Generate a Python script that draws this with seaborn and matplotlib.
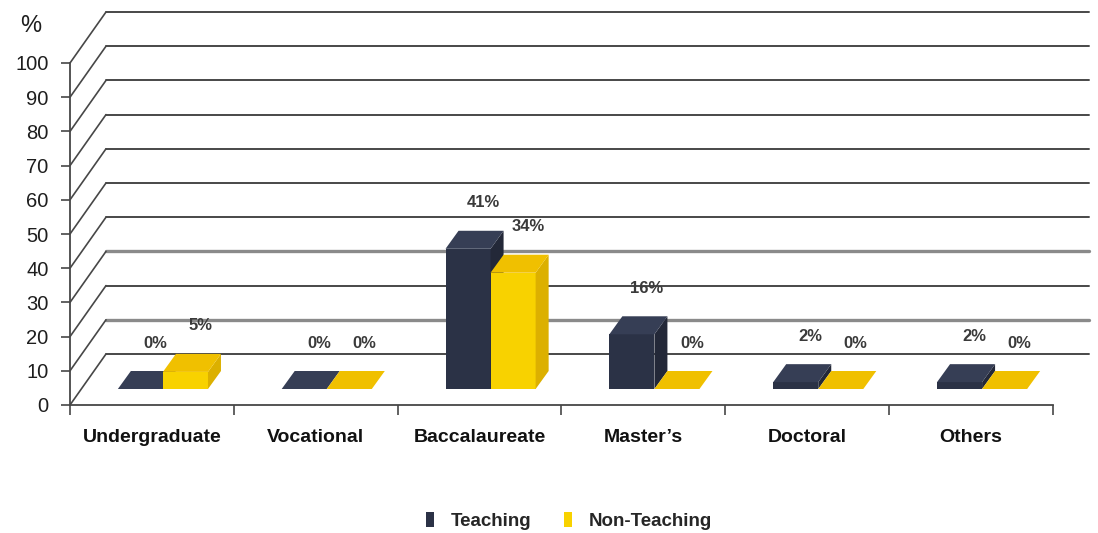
import numpy as np
import pandas as pd
import matplotlib
matplotlib.use("Agg")
import matplotlib.pyplot as plt
import seaborn as sns
from matplotlib.transforms import ScaledTranslation, IdentityTransform
from matplotlib.patches import Polygon
from matplotlib.font_manager import FontProperties

# ---------------- data ----------------
categories = ["Undergraduate", "Vocational", "Baccalaureate", "Master\u2019s", "Doctoral", "Others"]
series = ["Teaching", "Non-Teaching"]
teaching = [0, 0, 41, 16, 2, 2]
non_teaching = [5, 0, 34, 0, 0, 0]
yticks = list(range(0, 101, 10))

df = pd.DataFrame({
    "Level": categories * 2,
    "Share": teaching + non_teaching,
    "Group": [series[0]] * len(categories) + [series[1]] * len(categories),
})

# ---------------- style ----------------
NAVY = "#2b3246"
NAVY_TOP = "#363e55"
NAVY_SIDE = "#232838"
YELLOW = "#f8d200"
YELLOW_TOP = "#f0c000"
YELLOW_SIDE = "#dcb000"
GRID = "#474747"

sns.set_theme(style="white")
plt.rcParams["font.family"] = ["Liberation Sans", "DejaVu Sans"]
cat_font = FontProperties(family=["Liberation Sans", "DejaVu Sans"], weight="bold", size=14)
legend_font = FontProperties(family=["Liberation Sans", "DejaVu Sans"], weight="bold", size=13.5)

W, H = 1098, 533
fig = plt.figure(figsize=(W / 100, H / 100), dpi=100)
fig.patch.set_facecolor("white")
ax = fig.add_axes([70 / W, 128 / H, 983 / W, 342 / H])
ax.set_facecolor("none")

sns.barplot(data=df, x="Level", y="Share", hue="Group", hue_order=series,
            palette=[NAVY, YELLOW], width=0.55, saturation=1, ax=ax,
            edgecolor="none", linewidth=0, errorbar=None)

ax.set_xlim(-0.5, len(categories) - 0.5)
ax.set_ylim(0, 100)
ax.set_autoscale_on(False)

def px(dx, dy):
    return ScaledTranslation(dx / 100, dy / 100, fig.dpi_scale_trans)

FX, FY = 11, 16      # front face offset from floor front edge (pixels)
DX, DY = 13, 18      # bar depth (pixels)
WX, WY = 36, 51      # back wall offset (pixels)

# back wall gridlines and left diagonals
for k in yticks:
    gray = k in (10, 30)
    ax.plot([-0.5, len(categories) - 0.5], [k, k],
            transform=ax.transData + px(WX, WY), clip_on=False,
            color="#8a8a8a" if gray else GRID, lw=2.4 if gray else 1.4, zorder=1)
    a = ax.transData.transform((-0.5, k))
    ax.plot([a[0], a[0] + WX], [a[1], a[1] + WY], transform=IdentityTransform(),
            clip_on=False, color=GRID, lw=1.2, zorder=1)

# pseudo-3D bars derived from seaborn's bar patches
face_cols = [(NAVY_TOP, NAVY_SIDE), (YELLOW_TOP, YELLOW_SIDE)]
for ci, (container, (topc, sidec)) in enumerate(zip(ax.containers, face_cols)):
    z = 3 + ci
    for bar in container:
        x0, w, h = bar.get_x(), bar.get_width(), bar.get_height()
        p0 = ax.transData.transform((x0, 0))
        p1 = ax.transData.transform((x0 + w, h))
        L, R = p0[0] + FX, p1[0] + FX
        B, T = p0[1] + FY, p1[1] + FY
        bar.set_transform(ax.transData + px(FX, FY))
        bar.set_zorder(z)
        bar.set_clip_on(False)
        top = Polygon([(L, T), (R, T), (R + DX, T + DY), (L + DX, T + DY)], closed=True,
                      facecolor=topc, edgecolor="none", transform=IdentityTransform(),
                      clip_on=False, zorder=z)
        side = Polygon([(R, B), (R + DX, B + DY), (R + DX, T + DY), (R, T)], closed=True,
                       facecolor=sidec, edgecolor="none", transform=IdentityTransform(),
                       clip_on=False, zorder=z)
        ax.add_patch(side)
        ax.add_patch(top)
        ax.annotate(f"{int(round(h))}%", xy=(x0 + w / 2, h),
                    xytext=(FX + DX + 2, FY + DY + 28), textcoords="offset pixels",
                    ha="center", va="center", fontsize=12, fontweight="bold",
                    color="#3a3a3a", zorder=6, annotation_clip=False)

# axes / spines
for s in ["top", "right"]:
    ax.spines[s].set_visible(False)
for s in ["left", "bottom"]:
    ax.spines[s].set_color(GRID)
    ax.spines[s].set_linewidth(1.3)
    ax.spines[s].set_zorder(2)

ax.set_yticks(yticks)
ax.set_yticklabels([str(t) for t in yticks])
ax.tick_params(axis="y", which="major", direction="out", length=6.5, width=1.2,
               color=GRID, pad=9, labelsize=14.5, labelcolor="#1e1e1e", left=True)
ax.set_xticks(range(len(categories)))
ax.set_xticklabels(categories)
for lab in ax.get_xticklabels():
    lab.set_fontproperties(cat_font)
    lab.set_color("#111111")
ax.set_xticks(np.arange(-0.5, len(categories)), minor=True)
ax.tick_params(axis="x", which="major", length=0, pad=17)
ax.tick_params(axis="x", which="minor", direction="out", length=7.5, width=1.2,
               color=GRID, bottom=True)
ax.set_xlabel("")
ax.set_ylabel("")

fig.text(31 / W, 1 - 26 / H, "%", fontsize=17, ha="center", va="center", color="#1e1e1e")

handles, labels = ax.get_legend_handles_labels()
if ax.get_legend() is not None:
    ax.get_legend().remove()
fig.legend(handles, labels, loc="center", bbox_to_anchor=(569 / W, 1 - 521 / H),
           ncol=2, frameon=False, handlelength=0.45, handleheight=0.85,
           handletextpad=0.9, columnspacing=1.7, prop=legend_font)

fig.savefig("out.png", dpi=100, facecolor="white")
